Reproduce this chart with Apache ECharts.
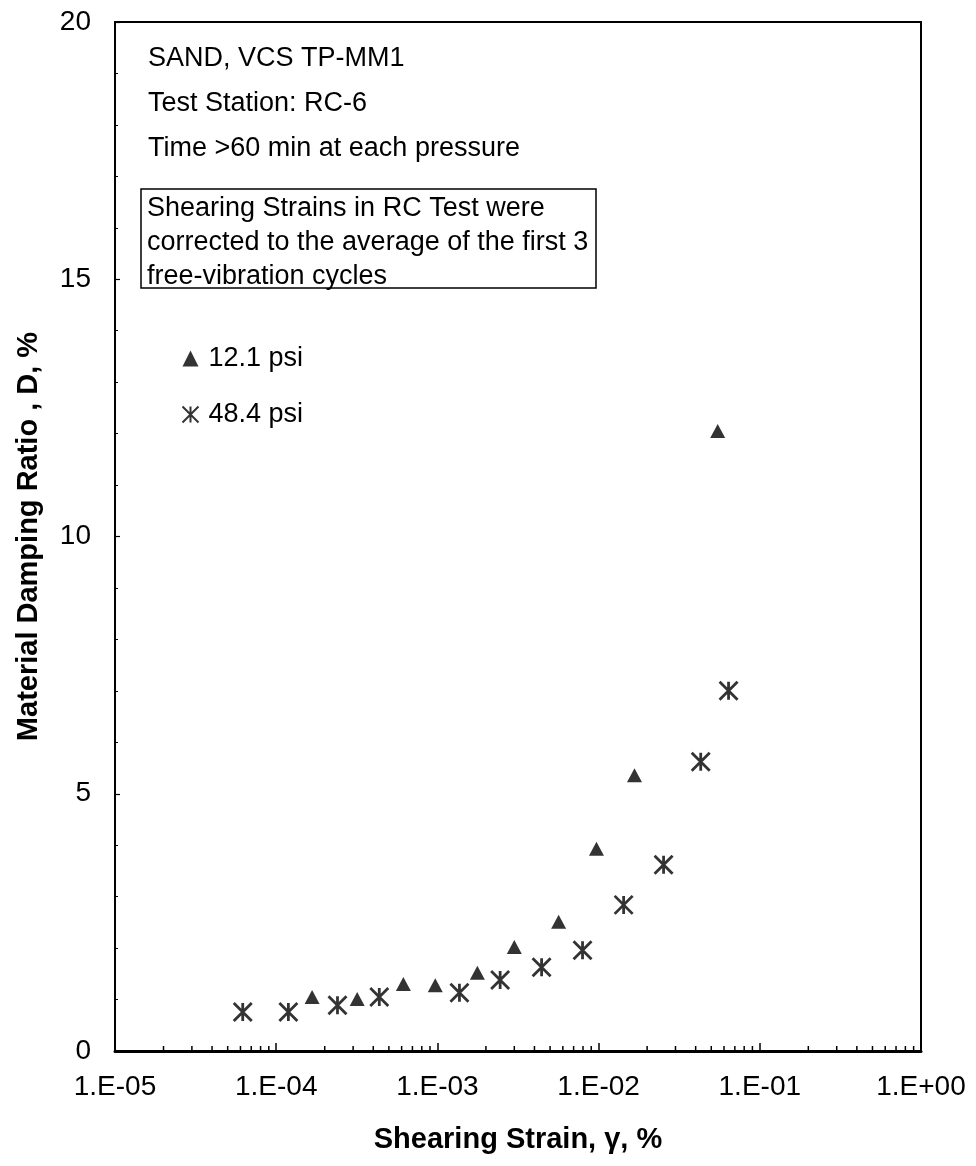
<!DOCTYPE html>
<html>
<head>
<meta charset="utf-8">
<script src="https://cdn.jsdelivr.net/npm/echarts@6/dist/echarts.min.js"></script>
<style>
  html, body { margin: 0; padding: 0; background: #fff; }
  #chart { width: 976px; height: 1166px; }
</style>
</head>
<body>
<div id="chart"></div>
<script>
// Damping ratio vs. shearing strain, two confining pressures
const psi12Strain  = [1.67e-4, 3.18e-4, 6.15e-4, 9.7e-4, 1.77e-3, 3.0e-3, 5.65e-3, 9.7e-3, 1.67e-2, 5.48e-2];
const psi12Damping = [1.05, 1.01, 1.30, 1.28, 1.52, 2.02, 2.51, 3.93, 5.36, 12.05];
const psi48Strain  = [6.2e-5, 1.19e-4, 2.4e-4, 4.36e-4, 1.37e-3, 2.45e-3, 4.43e-3, 7.95e-3, 1.43e-2, 2.53e-2, 4.3e-2, 6.4e-2];
const psi48Damping = [0.76, 0.76, 0.89, 1.05, 1.13, 1.38, 1.63, 1.96, 2.84, 3.62, 5.62, 7.0];
const seriesNames = ['12.1 psi', '48.4 psi'];
const noteLines = ['SAND, VCS TP-MM1', 'Test Station: RC-6', 'Time >60 min at each pressure'];
const boxLines = ['Shearing Strains in RC Test were', 'corrected to the average of the first 3', 'free-vibration cycles'];
const xName = 'Shearing Strain, \u03b3, %';
const yName = 'Material Damping Ratio , D, %';

const FONT = '"Liberation Sans", Arial, Helvetica, sans-serif';

const zip = (xs, ys) => xs.map((x, i) => [x, ys[i]]);

// minor log ticks (2..9 within each decade) drawn along the bottom axis
const minorTicks = [];
for (let d = -5; d < 0; d++) {
  for (let k = 2; k <= 9; k++) minorTicks.push([k * Math.pow(10, d), 0]);
}

const expLabel = v => {
  const e = Math.round(Math.log10(v));
  return '1.E' + (e < 0 ? '-' : '+') + String(Math.abs(e)).padStart(2, '0');
};

// six-armed star: vertical stroke plus two diagonals
const asterisk = 'path://M0,0L18,18M18,0L0,18M9,0L9,18';

const chart = echarts.init(document.getElementById('chart'), null, { renderer: 'canvas' });

const graphic = [];
noteLines.forEach((t, i) => {
  graphic.push({
    type: 'text', x: 148, y: 59 + i * 45,
    style: { text: t, font: '27px ' + FONT, fill: '#000', textVerticalAlign: 'middle', textAlign: 'left' },
    z: 10
  });
});
graphic.push({
  type: 'rect', x: 141, y: 189,
  shape: { width: 455, height: 99 },
  style: { fill: 'none', stroke: '#000', lineWidth: 1.5 },
  z: 10
});
boxLines.forEach((t, i) => {
  graphic.push({
    type: 'text', x: 147, y: 209 + i * 34,
    style: { text: t, font: '27px ' + FONT, fill: '#000', textVerticalAlign: 'middle', textAlign: 'left' },
    z: 10
  });
});

chart.setOption({
  backgroundColor: '#fff',
  animation: false,
  grid: { left: 115, right: 55, top: 22, bottom: 115, show: true, borderColor: '#000', borderWidth: 2, backgroundColor: 'transparent' },
  legend: {
    orient: 'vertical', left: 175, top: 340, itemGap: 29, itemWidth: 16, itemHeight: 16,
    data: seriesNames,
    textStyle: { fontSize: 27, fontFamily: FONT, color: '#000', padding: [0, 0, 0, 5] }
  },
  xAxis: {
    type: 'log', logBase: 10, min: 1e-5, max: 1,
    name: xName, nameLocation: 'middle', nameGap: 74,
    nameTextStyle: { fontSize: 29, fontWeight: 'bold', fontFamily: FONT, color: '#000' },
    axisLine: { show: true, lineStyle: { color: '#000', width: 3 } },
    axisTick: { show: true, inside: true, length: 8, lineStyle: { color: '#000', width: 1.5 } },
    axisLabel: { fontSize: 28, fontFamily: FONT, color: '#000', margin: 22, formatter: expLabel },
    splitLine: { show: false }
  },
  yAxis: {
    type: 'value', min: 0, max: 20, interval: 5,
    name: yName, nameLocation: 'middle', nameGap: 72, nameRotate: 90,
    nameTextStyle: { fontSize: 29, fontWeight: 'bold', fontFamily: FONT, color: '#000' },
    axisLine: { show: true, lineStyle: { color: '#000', width: 2 } },
    axisTick: { show: true, inside: true, length: 5, lineStyle: { color: '#000', width: 1.2 } },
    minorTick: { show: true, splitNumber: 5, length: 3, lineStyle: { color: '#000', width: 1 } },
    axisLabel: { fontSize: 28, fontFamily: FONT, color: '#000', margin: 24 },
    splitLine: { show: false }
  },
  graphic: graphic,
  series: [
    {
      name: seriesNames[0], type: 'scatter',
      data: zip(psi12Strain, psi12Damping),
      symbol: 'triangle', symbolSize: [15, 14],
      itemStyle: { color: '#000' }, z: 5
    },
    {
      name: seriesNames[1], type: 'scatter',
      data: zip(psi48Strain, psi48Damping),
      symbol: asterisk, symbolSize: [18, 18],
      itemStyle: { color: 'none', borderColor: '#000', borderWidth: 2.8 }, z: 5
    },
    {
      type: 'custom', silent: true, clip: false, z: 4,
      data: minorTicks,
      renderItem: (params, api) => {
        const p = api.coord([api.value(0), 0]);
        return {
          type: 'line',
          shape: { x1: p[0], y1: p[1], x2: p[0], y2: p[1] - 5 },
          style: { stroke: '#000', lineWidth: 1.5 }
        };
      }
    }
  ]
});
</script>
</body>
</html>
